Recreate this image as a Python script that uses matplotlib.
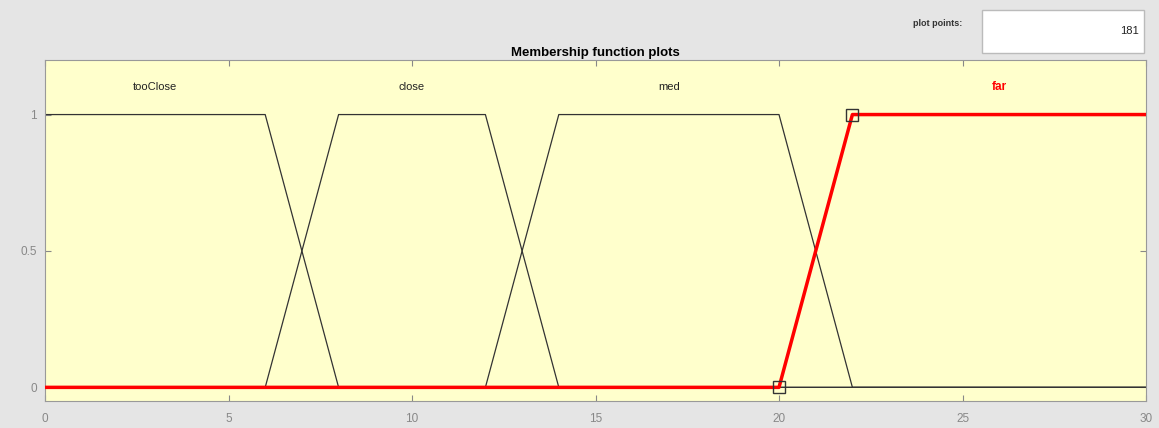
import numpy as np
import matplotlib.pyplot as plt
from matplotlib.patches import Rectangle

# membership functions (trapezoid params a, b, c, d)
mf_names = ['tooClose', 'close', 'med', 'far']
mf_params = [[0, 0, 6, 8], [6, 8, 12, 14], [12, 14, 20, 22], [20, 22, 30, 30]]
selected = 'far'
n_points = 181
x_range = [0, 30]
xticks = [0, 5, 10, 15, 20, 25, 30]
yticks = [0, 0.5, 1]

plt.rcParams['font.family'] = ['Liberation Sans', 'DejaVu Sans']

x = np.linspace(x_range[0], x_range[1], n_points)


def trapmf(xv, p):
    a, b, c, d = p
    up = np.ones_like(xv) if b == a else np.clip((xv - a) / (b - a), 0, 1)
    down = np.ones_like(xv) if d == c else np.clip((d - xv) / (d - c), 0, 1)
    return np.minimum(up, down)


fig = plt.figure(figsize=(11.59, 4.28), dpi=100, facecolor='#e5e5e5')
ax = fig.add_axes([45 / 1159, 1 - 401 / 428, 1101 / 1159, 341 / 428])
ax.set_facecolor('#ffffcc')

for name, p in zip(mf_names, mf_params):
    y = trapmf(x, p)
    xc = (p[1] + p[2]) / 2
    if name == selected:
        ax.plot(x, y, color='red', lw=2.5, zorder=3)
        ax.plot([p[0], p[1]], [0, 1], ls='none', marker='s', ms=8,
                mfc='none', mec='#333333', mew=1, zorder=4)
        ax.text(xc, 1.1, name, color='red', fontsize=8.5, fontweight='bold',
                ha='center', va='center')
    else:
        ax.plot(x, y, color='#333333', lw=0.9, zorder=2)
        ax.text(xc, 1.1, name, color='#222222', fontsize=8,
                ha='center', va='center')

ax.set_xlim(x_range)
ax.set_ylim(-0.05, 1.2)
ax.set_xticks(xticks)
ax.set_yticks(yticks)
ax.set_yticklabels(['0', '0.5', '1'])
ax.tick_params(direction='in', length=4, top=True, right=True,
               colors='#888888', labelsize=8.5, labelcolor='#888888')
ax.tick_params(axis='x', pad=9)
ax.tick_params(axis='y', pad=6)
for s in ax.spines.values():
    s.set_color('#999999')
    s.set_linewidth(0.8)
ax.set_title('Membership function plots', fontsize=9.5, fontweight='bold',
             pad=3)

# plot points box
fig.text(962 / 1159, 1 - 24 / 428, 'plot points:', fontsize=6.5,
         fontweight='bold', ha='right', va='center', color='#333333')
fig.patches.append(Rectangle((982 / 1159, 1 - 53 / 428), 162 / 1159, 43 / 428,
                             transform=fig.transFigure, facecolor='white',
                             edgecolor='#bbbbbb', lw=1))
fig.text(1139 / 1159, 1 - 31 / 428, str(n_points), fontsize=8,
         ha='right', va='center', color='#222222')

fig.savefig('out.png', dpi=100, facecolor=fig.get_facecolor())
